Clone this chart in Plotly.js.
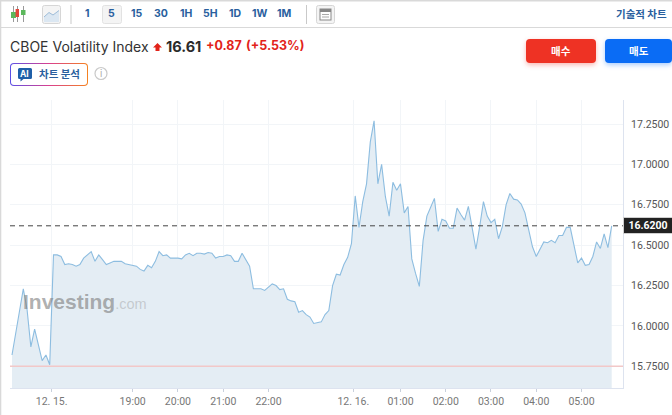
<!DOCTYPE html>
<html><head><meta charset="utf-8">
<script src="https://cdn.plot.ly/plotly-3.0.1.min.js"></script>
<style>
html,body{margin:0;padding:0;background:#fff;overflow:hidden}
#wrap{position:relative;width:672px;height:415px}
#bg,#chart{position:absolute;left:0;top:0}
#ai{position:absolute;left:10px;top:63px;width:76px;height:21px;border:1px solid transparent;border-radius:4px;
background:linear-gradient(#fff,#fff) padding-box,linear-gradient(90deg,#5a4fe6,#d9408f,#f58220) border-box}
.btn{position:absolute;top:39px;height:24px;border-radius:4px}
</style></head><body>
<div id="wrap">
<svg id="bg" width="672" height="415">
<rect x="0" y="0" width="672" height="1.5" fill="#d9d9d9"/>
<rect x="0" y="27" width="672" height="1" fill="#d9d9d9"/>
<rect x="0" y="0" width="1.3" height="415" fill="#d9d9d9"/>
<rect x="70.5" y="5" width="1" height="19" fill="#c9c9c9"/>
<rect x="306" y="5" width="1" height="19" fill="#c9c9c9"/>
<g>
<rect x="13" y="6" width="1" height="16" fill="#999"/><rect x="17" y="6" width="1" height="16" fill="#999"/><rect x="23" y="6" width="1" height="16" fill="#999"/>
<rect x="11" y="12" width="5" height="6" fill="#5cb85c"/>
<rect x="21" y="10" width="4.5" height="5" fill="#5cb85c"/>
<rect x="15.6" y="9" width="3.4" height="8" fill="#e2473a"/>
</g>
<rect x="42.5" y="5.5" width="18" height="18" rx="2" fill="#f4f4f4" stroke="#d6d6d6"/>
<path d="M44 17 L49 12.5 L53 15 L59 10.5 L59 22 L44 22 Z" fill="#dbe7f2"/>
<path d="M44 17 L49 12.5 L53 15 L59 10.5" fill="none" stroke="#9dbcd8"/>
<rect x="102.5" y="5.5" width="19" height="18" rx="2" fill="#f4f4f4" stroke="#e2e2e2"/>
<rect x="316.5" y="5.5" width="18" height="18" rx="2" fill="#f4f4f4" stroke="#d6d6d6"/>
<rect x="320" y="9" width="11" height="11" fill="#fff" stroke="#888"/>
<rect x="320" y="9" width="11" height="3" fill="#888"/>
<path d="M322 14.5H329M322 17H329" stroke="#aaa"/>
<path d="M157.5 43 L162 47.5 H159.5 V51 H155.5 V47.5 H153 Z" fill="#e2231a"/>
<circle cx="101" cy="73.5" r="6" fill="#fff" stroke="#c9c9c9" stroke-width="1.2"/>
</svg>
<div id="ai" style="z-index:0"></div>
<div class="btn" style="left:526px;width:70px;background:#ee3224;box-shadow:0 2px 5px rgba(238,50,36,.35)"></div>
<div class="btn" style="left:605px;width:67px;background:#0a6cf5;box-shadow:0 2px 5px rgba(10,108,245,.35)"></div>
<svg style="position:absolute;left:0;top:0" width="672" height="415">
<path d="M19.5 68 h11 a1.5 1.5 0 0 1 1.5 1.5 v8 a1.5 1.5 0 0 1 -1.5 1.5 h-7 l-3 2.5 v-2.5 h-1 a1.5 1.5 0 0 1 -1.5 -1.5 v-8 a1.5 1.5 0 0 1 1.5 -1.5 z" fill="#1f5fa8"/>
</svg>
<div id="chart"></div>
</div>
<script>
const prices = [
15.82,15.95,16.09,16.23,16.10,15.87,15.98,15.88,15.785,15.82,15.76,16.44,16.44,16.43,16.38,16.385,16.38,16.37,16.38,16.42,
16.44,16.46,16.40,16.44,16.41,16.38,16.39,16.40,16.40,16.40,16.385,16.38,16.375,16.37,16.35,16.34,16.375,16.36,16.40,16.46,
16.435,16.44,16.42,16.42,16.42,16.415,16.44,16.45,16.435,16.45,16.45,16.445,16.455,16.45,16.42,16.43,16.43,
16.44,16.435,16.40,16.40,16.45,16.41,16.37,16.23,16.23,16.23,16.22,16.24,16.26,16.25,16.225,16.23,16.165,16.155,16.15,
16.085,16.095,16.07,16.055,16.015,16.02,16.025,16.07,16.095,16.25,16.32,16.315,16.38,16.425,16.51,16.805,16.61,16.77,16.88,17.14,
17.27,16.88,17.00,16.80,16.68,16.89,16.84,16.88,16.70,16.74,16.415,16.325,16.245,16.53,16.68,16.735,16.79,16.585,16.66,16.65,
16.605,16.605,16.73,16.69,16.655,16.74,16.595,16.475,16.615,16.77,16.68,16.64,16.66,16.54,16.615,16.75,16.82,16.785,16.78,16.755,
16.70,16.585,16.49,16.43,16.48,16.52,16.515,16.53,16.515,16.56,16.56,16.61,16.61,16.51,16.39,16.42,16.375,16.38,16.43,16.52,
16.48,16.57,16.485,16.62];
const barIndex = prices.map((_, i) => i);
const xTickIndex = [10.5, 32, 44, 56, 68, 90.5, 103, 115, 127, 139, 151];
const xTickLabels = ['12. 15.', '19:00', '20:00', '21:00', '22:00', '12. 16.', '01:00', '02:00', '03:00', '04:00', '05:00'];
const yTicks = [15.75, 16, 16.25, 16.5, 16.75, 17, 17.25];
const currentPrice = 16.62;
const supportPrice = 15.75;

const L = 10, R = 623.3, T = 100, B = 388;
const px = x => (x - L) / (R - L);
const py = y => (B - y) / (B - T);
const sans = 'Inter, "Noto Sans CJK KR", sans-serif';
const kr = '"Noto Sans CJK KR", sans-serif';
const blue = '#2a5f9e';
function label(x, y, text, size, color, anchor, family) {
  return {xref: 'paper', yref: 'paper', x: px(x), y: py(y), text, showarrow: false,
    xanchor: anchor || 'center', yanchor: 'middle', align: anchor || 'center',
    font: {size, color, family: family || sans}};
}
const frames = [['1',87.5],['5',112],['15',137],['30',161.5],['1H',186.5],['5H',211],['1D',235.5],['1W',260.5],['1M',285]];
const annotations = frames.map(f => label(f[1], 13.5, '<b>' + f[0] + '</b>', 10.5, blue));
annotations.push(
  label(669, 13, '<b>기술적 차트</b>', 10.5, blue, 'right', kr),
  label(8, 46, 'CBOE Volatility Index', 14, '#333', 'left'),
  label(164, 46.5, '<b>16.61</b>', 14.5, '#2a2a2a', 'left'),
  label(204, 45.5, '<b>+0.87</b>', 12.5, '#e2231a', 'left'),
  label(244, 45.5, '<b>(+5.53%)</b>', 12.5, '#e2231a', 'left'),
  label(25, 73.5, '<b>AI</b>', 8.5, '#fff'),
  label(59.5, 73, '<b>차트 분석</b>', 10.5, blue, 'center', kr),
  label(101, 73.5, 'i', 9.5, '#aaa'),
  label(561, 50.5, '<b>매수</b>', 10.5, '#fff', 'center', kr),
  label(639, 50.5, '<b>매도</b>', 10.5, '#fff', 'center', kr),
  label(21, 301, '<b>Investing</b><span style="font-size:14.5px;color:rgba(140,140,140,0.6);font-weight:400">.com</span>', 21, 'rgba(125,125,125,0.62)', 'left', '"Liberation Sans", sans-serif'),
  {xref: 'paper', yref: 'y', x: 1, y: currentPrice, text: '<b>16.6200</b>', showarrow: false, xanchor: 'left', yanchor: 'middle',
   xshift: 0, width: 45, height: 12, bgcolor: '#222', bordercolor: '#cfcfcf', borderwidth: 1, borderpad: 1.5,
   font: {size: 10.5, color: '#fff', family: 'Roboto, sans-serif'}}
);

Plotly.newPlot('chart', [{
  x: barIndex, y: prices, type: 'scatter', mode: 'lines',
  fill: 'tozeroy', fillcolor: '#e4edf4',
  line: {color: '#8dbde0', width: 1.1, shape: 'linear'},
  hoverinfo: 'skip'
}], {
  width: 672, height: 415,
  margin: {l: L, r: 672 - R, t: T, b: 415 - B, pad: 0},
  paper_bgcolor: 'rgba(0,0,0,0)', plot_bgcolor: 'rgba(0,0,0,0)',
  showlegend: false,
  xaxis: {range: [-0.53, 162], tickmode: 'array', tickvals: xTickIndex, ticktext: xTickLabels,
    showgrid: true, gridcolor: '#f2f5f8', gridwidth: 1, zeroline: false,
    showline: true, linecolor: '#dde3ef', linewidth: 1, ticks: 'outside', ticklen: 3, tickcolor: '#c8d0dc',
    tickangle: 0, tickfont: {family: 'Roboto, sans-serif', size: 10.5, color: '#777'}},
  yaxis: {range: [15.6156, 17.399], side: 'right', tickmode: 'array', tickvals: yTicks,
    ticktext: yTicks.map(v => v.toFixed(4)),
    showgrid: true, gridcolor: '#f2f5f8', gridwidth: 1, zeroline: false,
    showline: true, linecolor: '#dde3ef', linewidth: 1, ticks: '', ticklabelstandoff: 5,
    tickfont: {family: 'Roboto, sans-serif', size: 10.5, color: '#555'}},
  shapes: [
    {type: 'line', xref: 'paper', x0: 0, x1: 1, yref: 'y', y0: supportPrice, y1: supportPrice, line: {color: '#f2c8c8', width: 1.5}},
    {type: 'line', xref: 'paper', x0: 0, x1: 1, yref: 'y', y0: currentPrice, y1: currentPrice, line: {color: '#444', width: 1, dash: '5px,4px'}}
  ],
  annotations
}, {displayModeBar: false, staticPlot: true});
</script>
</body></html>
